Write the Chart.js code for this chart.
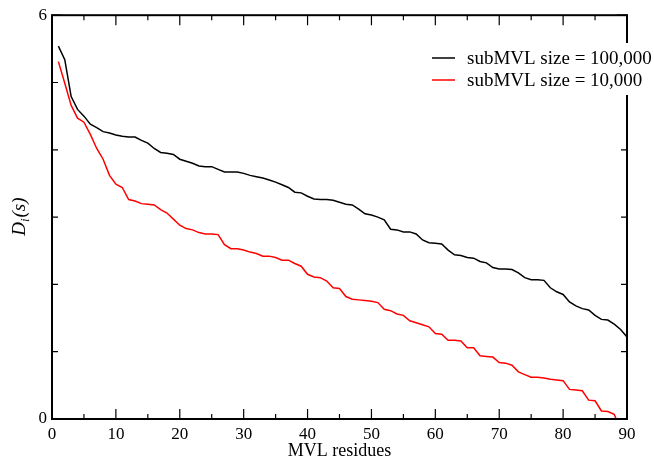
<!DOCTYPE html>
<html lang="en">
  <head>
    <meta charset="UTF-8" />
    <title>D_i(s) per MVL residue</title>
    <style>
      body { margin: 0; background: #fff; }
    </style>
  </head>
  <body>
    <canvas id="graphic" width="654" height="458"></canvas>
    <script src="https://cdn.jsdelivr.net/npm/chart.js"></script>
    <script>
      // valores
      const residues = Array.from({ length: 90 }, (_, i) => i + 1);
      const size100k = [
        5.54, 5.34, 4.79, 4.60, 4.50, 4.38, 4.33, 4.27, 4.25, 4.22,
        4.20, 4.19, 4.19, 4.14, 4.10, 4.02, 3.96, 3.95, 3.93, 3.86,
        3.83, 3.80, 3.76, 3.75, 3.75, 3.71, 3.67, 3.67, 3.67, 3.65,
        3.62, 3.60, 3.58, 3.55, 3.52, 3.48, 3.44, 3.37, 3.36, 3.31,
        3.27, 3.26, 3.26, 3.25, 3.22, 3.19, 3.18, 3.12, 3.05, 3.03,
        3.00, 2.96, 2.82, 2.81, 2.78, 2.78, 2.75, 2.66, 2.62, 2.61,
        2.60, 2.51, 2.44, 2.43, 2.40, 2.39, 2.34, 2.32, 2.25, 2.23,
        2.23, 2.22, 2.17, 2.10, 2.07, 2.07, 2.06, 1.95, 1.89, 1.85,
        1.74, 1.68, 1.64, 1.62, 1.54, 1.48, 1.47, 1.41, 1.33, 1.22
      ];
      const size10k = [
        5.31, 4.99, 4.66, 4.47, 4.41, 4.23, 4.02, 3.86, 3.62, 3.49,
        3.44, 3.26, 3.24, 3.20, 3.19, 3.18, 3.11, 3.06, 2.97, 2.88,
        2.83, 2.81, 2.77, 2.75, 2.75, 2.74, 2.59, 2.53, 2.53, 2.51,
        2.48, 2.46, 2.42, 2.42, 2.40, 2.36, 2.36, 2.31, 2.27, 2.15,
        2.11, 2.10, 2.05, 1.95, 1.94, 1.82, 1.78, 1.77, 1.76, 1.75,
        1.73, 1.63, 1.61, 1.56, 1.54, 1.46, 1.43, 1.40, 1.37, 1.27,
        1.26, 1.17, 1.17, 1.16, 1.06, 1.06, 0.94, 0.93, 0.92, 0.84,
        0.83, 0.80, 0.70, 0.66, 0.62, 0.62, 0.61, 0.59, 0.58, 0.57,
        0.44, 0.43, 0.42, 0.28, 0.27, 0.12, 0.11, 0.07, -0.16
      ];
      const seriesLabels = ["subMVL size = 100,000", "subMVL size = 10,000"];
      const xTicks = [0, 10, 20, 30, 40, 50, 60, 70, 80, 90];
      const yTicks = [0, 6];

      const serif = "'Liberation Serif', 'DejaVu Serif', serif";
      Chart.defaults.font.family = serif;
      Chart.defaults.color = "#000";

      const toPoints = (vals) => vals.map((v, i) => ({ x: residues[i], y: v }));

      // marco, marcas hacia dentro, leyenda y titulo del eje y
      const framePlugin = {
        id: "frame",
        afterDraw(chart) {
          const ctx = chart.ctx;
          const { left, right, top, bottom } = chart.chartArea;
          const sx = chart.scales.x;
          const sy = chart.scales.y;
          ctx.save();
          ctx.strokeStyle = "#000";
          ctx.lineWidth = 2;
          ctx.strokeRect(left, top, right - left, bottom - top);
          ctx.lineWidth = 1.2;
          ctx.beginPath();
          for (let v = 0; v <= 90; v += 5) {
            const px = sx.getPixelForValue(v);
            const len = v % 10 === 0 ? 10 : 5;
            ctx.moveTo(px, bottom); ctx.lineTo(px, bottom - len);
            ctx.moveTo(px, top); ctx.lineTo(px, top + len);
          }
          for (let v = 0; v <= 6; v += 1) {
            const py = sy.getPixelForValue(v);
            const len = v % 6 === 0 ? 10 : 6;
            ctx.moveTo(left, py); ctx.lineTo(left + len, py);
            ctx.moveTo(right, py); ctx.lineTo(right - len, py);
          }
          ctx.stroke();

          // leyenda
          const lx = 432, ly = 58, gap = 22;
          ctx.fillStyle = "#fff";
          ctx.fillRect(lx - 6, ly - 15, 654 - lx + 6, 2 * gap + 8);
          ctx.font = "19px " + serif;
          ctx.textBaseline = "middle";
          chart.data.datasets.forEach((ds, i) => {
            const y = ly + i * gap;
            ctx.strokeStyle = ds.borderColor;
            ctx.lineWidth = 1.5;
            ctx.beginPath();
            ctx.moveTo(lx, y); ctx.lineTo(lx + 23, y);
            ctx.stroke();
            ctx.fillStyle = "#000";
            ctx.fillText(ds.label, lx + 35, y + 1);
          });

          // titulo eje y: D_i(s)
          ctx.translate(19, (top + bottom) / 2);
          ctx.rotate(-Math.PI / 2);
          ctx.fillStyle = "#000";
          ctx.textBaseline = "alphabetic";
          ctx.font = "italic 19px " + serif;
          const wD = ctx.measureText("D").width;
          ctx.font = "italic 13px " + serif;
          const wi = ctx.measureText("i").width;
          ctx.font = "italic 19px " + serif;
          const wS = ctx.measureText("(s)").width;
          let x0 = -(wD + wi + wS) / 2;
          ctx.fillText("D", x0, 6);
          ctx.font = "italic 13px " + serif;
          ctx.fillText("i", x0 + wD, 10);
          ctx.font = "italic 19px " + serif;
          ctx.fillText("(s)", x0 + wD + wi + 1, 6);
          ctx.restore();
        },
      };

      const lienzo = document.getElementById("graphic");
      new Chart(lienzo, {
        type: "line",
        data: {
          datasets: [
            {
              label: seriesLabels[0],
              data: toPoints(size100k),
              borderColor: "#000000",
              borderWidth: 1.5,
              pointRadius: 0,
              fill: false,
              tension: 0,
            },
            {
              label: seriesLabels[1],
              data: toPoints(size10k),
              borderColor: "#ff0000",
              borderWidth: 1.5,
              pointRadius: 0,
              fill: false,
              tension: 0,
            },
          ],
        },
        options: {
          responsive: false,
          animation: false,
          events: [],
          layout: { padding: { left: 0, right: 27, top: 15, bottom: 0 } },
          plugins: { legend: { display: false }, tooltip: { enabled: false } },
          scales: {
            x: {
              type: "linear",
              min: 0,
              max: 90,
              afterBuildTicks: (s) => { s.ticks = xTicks.map((v) => ({ value: v })); },
              afterFit: (s) => { s.height = 39; },
              grid: { display: false, drawTicks: false },
              border: { display: false },
              ticks: { font: { size: 17 }, padding: 5, maxRotation: 0, autoSkip: false },
              title: { display: true, text: "MVL residues", font: { size: 18 }, padding: { top: 0, bottom: -4 } },
            },
            y: {
              type: "linear",
              min: 0,
              max: 6,
              afterBuildTicks: (s) => { s.ticks = yTicks.map((v) => ({ value: v })); },
              afterFit: (s) => { s.width = 52; },
              grid: { display: false, drawTicks: false },
              border: { display: false },
              ticks: { font: { size: 17 }, padding: 5 },
            },
          },
        },
        plugins: [framePlugin],
      });
    </script>
  </body>
</html>
